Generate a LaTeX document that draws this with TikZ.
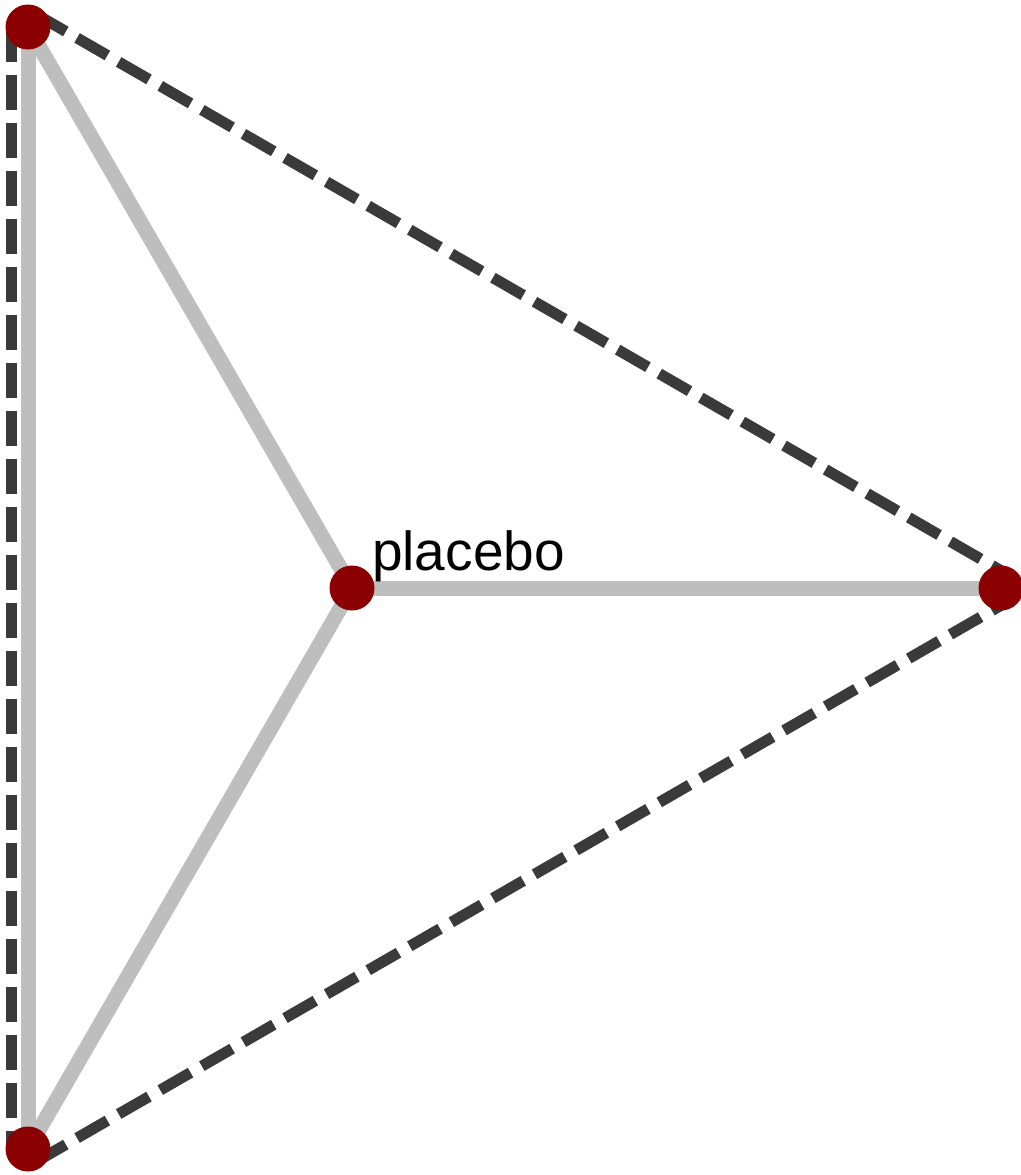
\documentclass[tikz,border=0pt]{standalone}
\usepackage{fontspec}
\setmainfont{Liberation Sans}
\usetikzlibrary{backgrounds}
\definecolor{Node}{HTML}{8B0000}
\definecolor{Light}{HTML}{BEBEBE}
\definecolor{Dark}{HTML}{3A3A3A}
\begin{document}
\begin{tikzpicture}[x=1pt,y=-1pt,
trt/.style={circle,fill=Node,inner sep=0pt,minimum size=45pt},
lbl/.style={inner sep=0pt,font=\fontsize{55}{66}\selectfont},
direct/.style={draw=Light,line width=15pt},
indirect/.style={draw=Dark,line width=11pt,dash pattern=on 35pt off 13pt}]
\useasboundingbox (0,0) rectangle (1020,1175);
\node[trt] (tl) at (28,27) {};
\node[trt] (bl) at (28,1149) {};
\node[trt] (rt) at (1001,588) {};
\node[trt] (pl) at (352,588) {};
\node[lbl,anchor=base west] (plab) at (372,570) {placebo};
\begin{scope}[on background layer]
\draw[direct] (tl.center)--(bl.center);\draw[direct] (tl.center)--(pl.center);
\draw[direct] (pl.center)--(bl.center);\draw[direct] (pl.center)--(rt.center);
\draw[indirect] ([xshift=-16.5pt]tl.center) -- ([xshift=-16.5pt]bl.center);
\draw[indirect] ([shift={(7.5pt,13pt)}]tl.center) -- ([shift={(7.5pt,13pt)}]rt.center);
\draw[indirect] ([shift={(7.5pt,-13pt)}]bl.center) -- ([shift={(7.5pt,-13pt)}]rt.center);
\end{scope}
\end{tikzpicture}
\end{document}
